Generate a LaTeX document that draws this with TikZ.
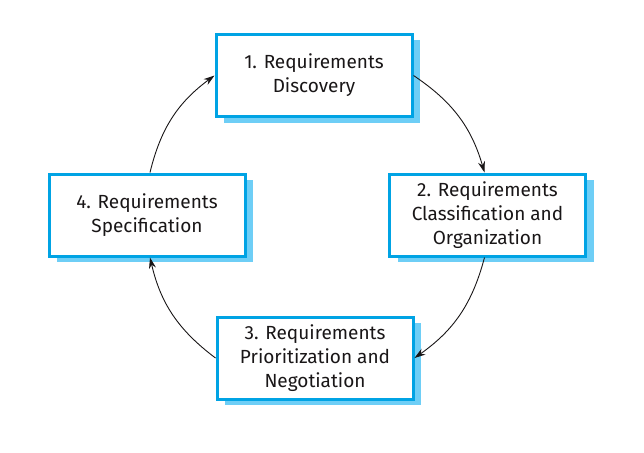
\documentclass[tikz,border=0pt]{standalone}
\usepackage{fontspec}
\setmainfont{Fira Sans}
\usetikzlibrary{shadows,arrows.meta}
\definecolor{boxblue}{RGB}{0,163,228}
\definecolor{shadblue}{RGB}{110,206,246}
\definecolor{txt}{RGB}{25,22,23}
\begin{document}
\begin{tikzpicture}[x=1pt,y=1pt,
  stagebox/.style={draw=boxblue, line width=3pt, fill=white, text=txt,
    minimum width=196pt, minimum height=82pt, inner sep=0pt, align=center,
    font=\fontsize{19}{24}\selectfont,
    drop shadow={shadow xshift=8pt, shadow yshift=-6pt, fill=shadblue, opacity=1}},
  flow/.style={-{Stealth[length=11pt,width=7pt]}, line width=0.9pt, draw=txt}]
\useasboundingbox (0,0) rectangle (644,-452);
\node[stagebox] (b1) at (314,-75.5) {1. Requirements\\Discovery};
\node[stagebox] (b2) at (487.5,-215) {2. Requirements\\Classification and\\Organization};
\node[stagebox] (b3) at (315,-358) {3. Requirements\\Prioritization and\\Negotiation};
\node[stagebox] (b4) at (147,-215) {4. Requirements\\Specification};
\draw[flow] (b1.east) to[bend left=20] ([xshift=-3pt]b2.north);
\draw[flow] ([xshift=-3pt]b2.south) to[bend left=20] (b3.east);
\draw[flow] (b3.west) to[bend left=20] ([xshift=3pt]b4.south);
\draw[flow] ([xshift=3pt]b4.north) to[bend left=20] (b1.west);
\end{tikzpicture}
\end{document}
